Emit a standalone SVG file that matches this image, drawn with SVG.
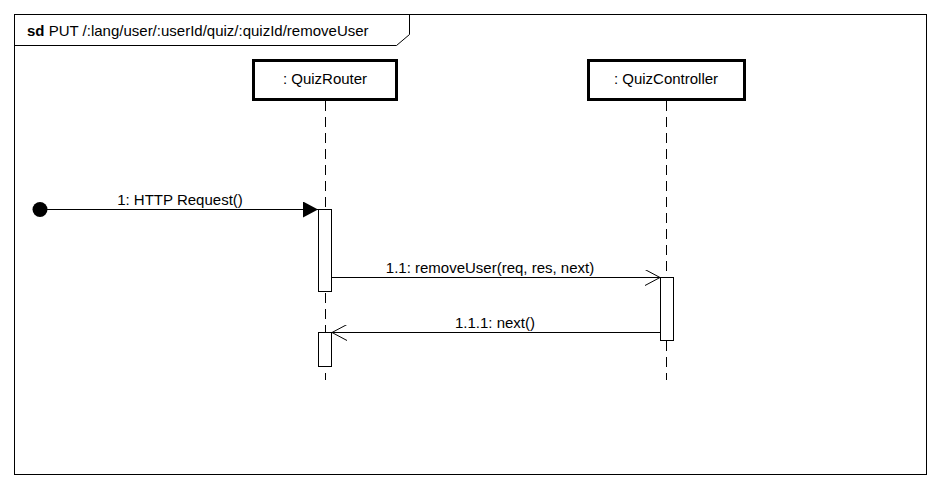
<svg xmlns="http://www.w3.org/2000/svg" width="940" height="488" viewBox="0 0 940 488">
<style>
text{font-family:"Liberation Sans",Arial,sans-serif;font-size:15px;fill:#000}
.box{fill:#fff;stroke:#000;stroke-width:3}
.life{stroke:#000;stroke-width:1;stroke-dasharray:10,6;fill:none}
.act{fill:#fff;stroke:#000;stroke-width:1}
.msg{stroke:#000;stroke-width:1;fill:none}
</style>
<defs>
<marker id="filled" markerWidth="16" markerHeight="16" refX="15" refY="8" orient="auto" markerUnits="userSpaceOnUse">
<path d="M0,0 L15,8 L0,16 Z" fill="#000"/>
</marker>
<marker id="open" markerWidth="16" markerHeight="16" refX="15" refY="8" orient="auto" markerUnits="userSpaceOnUse">
<path d="M0,0 L15,8 L0,16" fill="none" stroke="#000" stroke-width="1"/>
</marker>
</defs>
<rect width="940" height="488" fill="#fff"/>
<g id="frame">
<rect x="14.5" y="14.5" width="912" height="460" fill="none" stroke="#000"/>
<path d="M14.5,45.5 H396.5 L409.5,34.5 V14.5" fill="none" stroke="#000"/>
<text x="27" y="36"><tspan font-weight="bold">sd</tspan> PUT /:lang/user/:userId/quiz/:quizId/removeUser</text>
</g>
<g id="QuizRouter">
<line class="life" x1="325.5" y1="101" x2="325.5" y2="380"/>
<rect class="box" x="253.5" y="60.5" width="143" height="39"/>
<text x="325" y="84" text-anchor="middle">: QuizRouter</text>
<rect class="act" x="318.5" y="209.5" width="13" height="82"/>
<rect class="act" x="318.5" y="332.5" width="13" height="34"/>
</g>
<g id="QuizController">
<line class="life" x1="666.5" y1="101" x2="666.5" y2="380"/>
<rect class="box" x="588.5" y="60.5" width="156" height="39"/>
<text x="666" y="84" text-anchor="middle">: QuizController</text>
<rect class="act" x="660.5" y="277.5" width="13" height="63"/>
</g>
<g id="start">
<circle cx="40" cy="209.5" r="7.5" fill="#000"/>
</g>
<g id="connectors">
<line class="msg" x1="40" y1="209.5" x2="318" y2="209.5" marker-end="url(#filled)"/>
<text x="180" y="205" text-anchor="middle">1: HTTP Request()</text>
<line class="msg" x1="332" y1="277.5" x2="660" y2="277.5" marker-end="url(#open)"/>
<text x="490" y="273" text-anchor="middle">1.1: removeUser(req, res, next)</text>
<line class="msg" x1="660" y1="332.5" x2="332" y2="332.5" marker-end="url(#open)"/>
<text x="495" y="328" text-anchor="middle">1.1.1: next()</text>
</g>
</svg>
